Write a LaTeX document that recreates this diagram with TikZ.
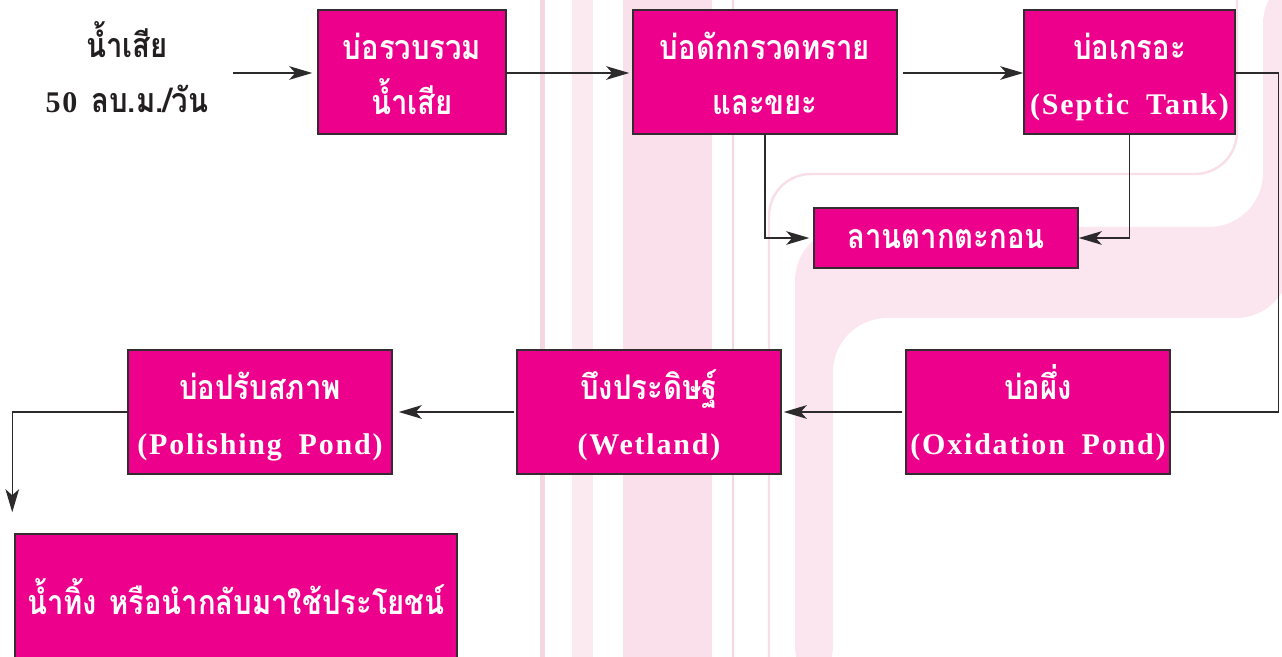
\documentclass[tikz,border=0pt]{standalone}
\usepackage{fontspec}
\newfontfamily\thaifnt[Script=Thai,FakeStretch=0.86]{Loma}
\newfontfamily\latfnt[LetterSpace=6,WordSpace=1.8]{Liberation Serif}
\usetikzlibrary{arrows.meta}
\newdimen\pxu \pxu=0.5pt
\definecolor{boxpink}{RGB}{236,0,140}
\definecolor{boxline}{RGB}{51,45,50}
\definecolor{lineC}{RGB}{45,42,44}
\definecolor{txtdark}{RGB}{35,31,32}
\definecolor{stripeA}{RGB}{247,214,227}
\definecolor{stripeB}{RGB}{252,234,241}
\definecolor{stripeC}{RGB}{250,224,234}
\definecolor{bandC}{RGB}{251,229,238}
\definecolor{outlC}{RGB}{249,221,232}
\newcommand\thtxt[1]{{\thaifnt\fontsize{17}{27.5}\selectfont #1}}
\newcommand\entxt[1]{{\latfnt\fontsize{15}{27.5}\selectfont #1}}
\newcommand\topstrut[1]{\rule{0pt}{#1}}
\newcommand\botstrut[1]{\rule[-#1]{0pt}{0pt}}
\begin{document}
\begin{tikzpicture}[x=0.5pt,y=-0.5pt,
  box/.style={draw=boxline,line width=0.75pt,fill=boxpink,text=white,align=center,
    inner sep=0pt,minimum width=132pt,minimum height=62pt,
    font=\bfseries\fontsize{17}{27.5}\selectfont},
  conn/.style={draw=lineC,line width=0.65pt},
  arr/.style={conn,-{Stealth[length=11.5pt,width=6.8pt,inset=3pt]}}]
\useasboundingbox (0,0) rectangle (1282,657);
% background decoration
\fill[stripeA] (540,0) rectangle (545,657);
\fill[stripeB] (572,0) rectangle (593,657);
\fill[stripeC] (623,0) rectangle (712,657);
\fill[stripeA] (731.5,0) rectangle (734,657);
\fill[bandC, rounded corners=27pt] (795,700) -- (795,227) -- (1263,227) -- (1263,-30)
  -- (1290,-30) -- (1290,318) -- (833,318) -- (833,700) -- cycle;
\draw[outlC, line width=1.2pt, rounded corners=21pt] (769,700) -- (769,174) -- (1237,174) -- (1237,-30);
% input label
\node[text=txtdark, align=center, font=\bfseries\fontsize{17}{27.5}\selectfont,
  minimum width=212\pxu, inner sep=0pt] (input) at (127,70)
  {\topstrut{20pt}\thtxt{น้ำเสีย}\\\entxt{50}\hspace{7pt}\thtxt{ลบ.ม./วัน}\botstrut{4.5pt}};
\coordinate (inarr) at (233,73);
% boxes
\node[box, minimum width=188\pxu] (b1) at (412,72)
  {\topstrut{20pt}\thtxt{บ่อรวบรวม}\\\thtxt{น้ำเสีย}\botstrut{4.5pt}};
\node[box] (b2) at (765,72)
  {\topstrut{20pt}\thtxt{บ่อดักกรวดทราย}\\\thtxt{และขยะ}\botstrut{4.5pt}};
\node[box, minimum width=211\pxu] (b3) at (1129.5,72)
  {\topstrut{20pt}\thtxt{บ่อเกรอะ}\\\entxt{(Septic Tank)}\botstrut{4.5pt}};
\node[box, minimum height=60\pxu] (b4) at (946,238)
  {\topstrut{14pt}\thtxt{ลานตากตะกอน}\botstrut{3pt}};
\node[box] (b5) at (1038,412)
  {\topstrut{20pt}\thtxt{บ่อผึ่ง}\\\entxt{(Oxidation Pond)}\botstrut{4.5pt}};
\node[box] (b6) at (649,412)
  {\topstrut{20pt}\thtxt{บึงประดิษฐ์}\\\entxt{(Wetland)}\botstrut{4.5pt}};
\node[box] (b7) at (260,412)
  {\topstrut{20pt}\thtxt{บ่อปรับสภาพ}\\\entxt{(Polishing Pond)}\botstrut{4.5pt}};
\node[box, minimum width=442\pxu, minimum height=132\pxu] (b8) at (236,600)
  {\topstrut{16pt}\thtxt{น้ำทิ้ง\hspace{6pt}หรือนำกลับมาใช้ประโยชน์}\botstrut{4pt}};
% connectors
\draw[arr, shorten >=2.5pt] (inarr) -- (b1.west |- inarr);
\draw[arr, shorten >=1.5pt] (b1.east |- inarr) -- (b2.west |- inarr);
\draw[arr, shorten <=2.5pt] (b2.east |- inarr) -- (b3.west |- inarr);
\draw[arr, shorten >=2pt] (b2.south) |- (b4.west);
\draw[arr] (b3.south) |- (b4.east);
\draw[conn] (b3.east |- inarr) -- ++(43,0) |- (b5.east);
\draw[arr, shorten <=1.5pt, shorten >=1pt] (b5.west) -- (b6.east);
\draw[arr, shorten <=1pt, shorten >=3pt] (b6.west) -- (b7.east);
\draw[arr, shorten >=10.5pt] (b7.west) -| ([xshift=-2\pxu]b8.north west);
\end{tikzpicture}
\end{document}
